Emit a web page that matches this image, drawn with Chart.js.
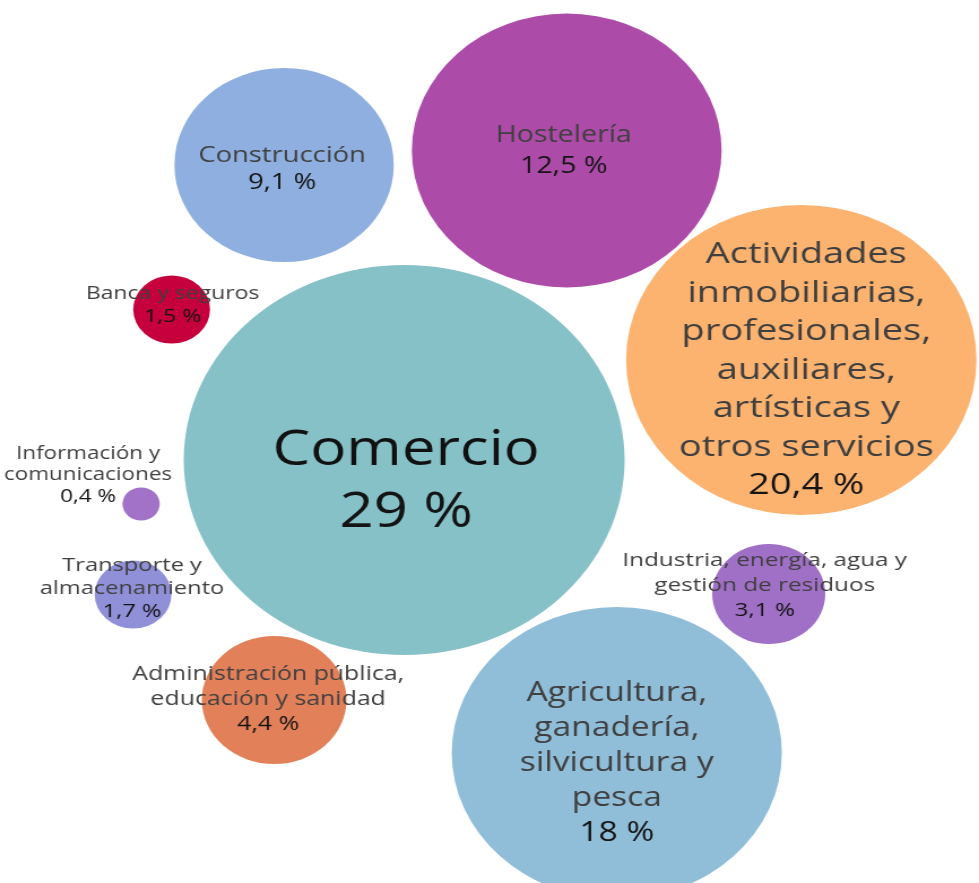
<!DOCTYPE html>
<html>
<head>
<meta charset="utf-8">
<title>Afiliación por sectores</title>
<script src="https://cdn.jsdelivr.net/npm/chart.js@4/dist/chart.umd.min.js"></script>
<style>
  html, body { margin:0; padding:0; background:#fff; }
  /* drawing is done narrow and stretched sideways, like the source picture */
  #bubbles { display:block; width:979px; height:883px; }
</style>
</head>
<body>
<canvas id="bubbles" width="866" height="883" style="width:979px;height:883px"></canvas>
<script>
/* ── Data ── */
const categories = [
  'Comercio',
  'Hostelería',
  'Construcción',
  'Actividades\ninmobiliarias,\nprofesionales,\nauxiliares,\nartísticas y\notros servicios',
  'Agricultura,\nganadería,\nsilvicultura y\npesca',
  'Industria, energía, agua y\ngestión de residuos',
  'Administración pública,\neducación y sanidad',
  'Transporte y\nalmacenamiento',
  'Banca y seguros',
  'Información y\ncomunicaciones'
];
const shares  = [29, 12.5, 9.1, 20.4, 18, 3.1, 4.4, 1.7, 1.5, 0.4];
// bubble placement on the packing grid (x to the right, y downwards)
const bubbleX = [357.5, 501.3, 251.3, 708.8, 545.6, 680, 242.5, 117.7, 151.8, 124.8];
const bubbleY = [460, 150.5, 165, 360, 753, 594, 700, 594.5, 309.5, 504];
const bubbleR = [195, 137, 97, 155, 146, 50, 64, 34, 34, 16.5];

const colors = ['#85C1C7','#AD4BA9','#8EAFE0','#FBB36F','#90BED9','#A070C6','#E2805A','#9090D9','#C5003C','#A172C8'];

/* ── Label look ── */
const STRETCH = 979 / 866;
const labelStyle = [
  { size:50, lh:62,   dx:  2, dy: 22, wide:1.06, name:'#111' },
  { size:23, lh:31,   dx: -3, dy:  0, wide:1.1 },
  { size:22, lh:27,   dx: -2, dy:  4, wide:1.1 },
  { size:30, lh:38.5, dx:  5, dy: 10, wide:1.12 },
  { size:27, lh:35,   dx:  0, dy: 10, wide:1.1 },
  { size:19, lh:25,   dx: -4, dy: -8, wide:1.13 },
  { size:20, lh:25,   dx: -6, dy: -1, wide:1.1 },
  { size:19, lh:23,   dx: -1, dy: -6, wide:1.1 },
  { size:19, lh:23,   dx:  1, dy: -4, wide:1.07 },
  { size:18, lh:21.5, dx:-53, dy:-29, wide:1.1 },
];
const FONT = '"Open Sans", "Noto Sans", sans-serif';

function fmtPct(v) { return String(v).replace('.', ',') + ' %'; }

const bubbleLabels = {
  id:'bubbleLabels',
  afterDatasetsDraw(chart) {
    const ctx = chart.ctx;
    const meta = chart.getDatasetMeta(0);
    meta.data.forEach((el, i) => {
      const st = labelStyle[i];
      const all = categories[i].split('\n').concat([fmtPct(shares[i])]);
      const cx = el.x + st.dx / STRETCH;
      const top = el.y + st.dy - (all.length - 1) * st.lh / 2;
      all.forEach((t, k) => {
        const isVal = k === all.length - 1;
        ctx.save();
        ctx.translate(cx, top + k * st.lh);
        ctx.scale(st.wide, 1);
        ctx.font = `${st.size}px ${FONT}`;
        ctx.textAlign = 'center';
        ctx.textBaseline = 'middle';
        ctx.fillStyle = isVal ? '#141414' : (st.name || '#3f3f3f');
        ctx.fillText(t, 0, 0);
        ctx.restore();
      });
    });
  }
};

const chart = new Chart(document.getElementById('bubbles'), {
  type:'bubble',
  data:{
    labels:categories,
    datasets:[{
      data:categories.map((c, i) => ({ x:bubbleX[i], y:bubbleY[i], r:bubbleR[i] })),
      backgroundColor:colors,
      borderWidth:0,
      hoverRadius:0,
      hoverBorderWidth:0
    }]
  },
  options:{
    responsive:false, animation:false, devicePixelRatio:1,
    layout:{ padding:0, autoPadding:false },
    plugins:{ legend:{ display:false }, tooltip:{ enabled:false } },
    scales:{
      x:{ type:'linear', min:0, max:866, display:false },
      y:{ type:'linear', min:0, max:883, reverse:true, display:false }
    }
  },
  plugins:[bubbleLabels]
});
</script>
</body>
</html>
